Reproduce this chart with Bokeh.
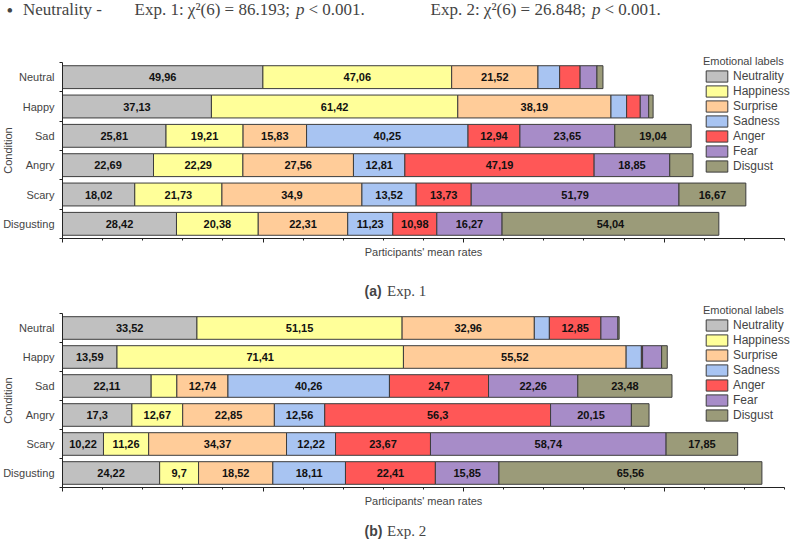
from bokeh.plotting import figure
from bokeh.models import (ColumnDataSource, FixedTicker, Legend, LegendItem, Label, Range1d,
                          CustomLabelingPolicy)
from bokeh.layouts import column
from bokeh.core.properties import value
from bokeh.embed import file_html
from bokeh.resources import INLINE

SANS = "Liberation Sans"
SERIF = "Liberation Serif"

conditions = ["Neutral", "Happy", "Sad", "Angry", "Scary", "Disgusting"]
emotions = ["Neutrality", "Happiness", "Surprise", "Sadness", "Anger", "Fear", "Disgust"]
colors = ["#C0C0C0", "#FFFF99", "#FFCC99", "#A8C4F2", "#FF5757", "#A78CC8", "#9B9B79"]

# Exp. 1 (values per condition, order as in `conditions`)
exp1_neutrality = [49.96, 37.13, 25.81, 22.69, 18.02, 28.42]
exp1_happiness = [47.06, 61.42, 19.21, 22.29, 21.73, 20.38]
exp1_surprise = [21.52, 38.19, 15.83, 27.56, 34.9, 22.31]
exp1_sadness = [5.4, 3.9, 40.25, 12.81, 13.52, 11.23]
exp1_anger = [5.1, 3.4, 12.94, 47.19, 13.73, 10.98]
exp1_fear = [4.2, 2.1, 23.65, 18.85, 51.79, 16.27]
exp1_disgust = [1.5, 1.1, 19.04, 5.8, 16.67, 54.04]

# Exp. 2
exp2_neutrality = [33.52, 13.59, 22.11, 17.3, 10.22, 24.22]
exp2_happiness = [51.15, 71.41, 6.4, 12.67, 11.26, 9.7]
exp2_surprise = [32.96, 55.52, 12.74, 22.85, 34.37, 18.52]
exp2_sadness = [3.75, 3.8, 40.26, 12.56, 12.22, 18.11]
exp2_anger = [12.85, 0.3, 24.7, 56.3, 23.67, 22.41]
exp2_fear = [4.25, 4.75, 22.26, 20.15, 58.74, 15.85]
exp2_disgust = [0.3, 1.4, 23.48, 4.4, 17.85, 65.56]

x_max = 180
x_major_ticks = [0, 50, 100, 150]
x_minor_ticks = list(range(0, 181, 10))
label_threshold = 9.0

x_title = "Participants' mean rates"
y_title = "Condition"
legend_title = "Emotional labels"

header_parts_1 = ["Exp. 1: \u03c7\u00b2(6) = 86.193;", "p", "< 0.001."]
header_parts_2 = ["Exp. 2: \u03c7\u00b2(6) = 26.848;", "p", "< 0.001."]

W = 792
LEFT = 62                 # px from figure left to x = 0
RIGHT_END = 784           # px from figure left to x = x_max
PX = (RIGHT_END - LEFT) / x_max   # px per unit on x


def make_panel(series, height, axis_px, top_px, letter, exp_text, cap_y, legend_y):
    """axis_px: px from figure top to the x axis; top_px: px from figure top to top of category band."""
    n = len(conditions)
    ys = [n - 0.5 - i for i in range(n)]
    data = {"y": ys}
    for e, s in zip(emotions, series):
        data[e] = s
    src = ColumnDataSource(data)

    py = (axis_px - top_px) / n
    y_lo = -(height - axis_px) / py
    y_hi = n + top_px / py
    p = figure(width=W, height=height,
               x_range=Range1d(-LEFT / PX, (W - LEFT) / PX), y_range=Range1d(y_lo, y_hi),
               output_backend="svg", toolbar_location=None, min_border=0)
    p.outline_line_color = None
    p.xgrid.visible = False
    p.ygrid.visible = False
    p.background_fill_color = "white"

    renderers = p.hbar_stack(emotions, y="y", height=0.78, fill_color=colors,
                             line_color="#3c3c3c", line_width=1, source=src)

    # value labels
    lx, ly, lt = [], [], []
    for i in range(n):
        cum = 0.0
        for s in series:
            v = s[i]
            if v >= label_threshold:
                lx.append(cum + v / 2)
                ly.append(ys[i])
                lt.append(str(v).replace(".", ","))
            cum += v
    p.text(x=lx, y=ly, text=lt, text_align="center", text_baseline="middle",
           text_font=value(SANS), text_font_style="bold", text_font_size="11px",
           text_color="#111111")

    # x axis
    xa = p.xaxis[0]
    xa.fixed_location = 0
    xa.bounds = (0, x_max)
    xa.ticker = FixedTicker(ticks=x_major_ticks, minor_ticks=x_minor_ticks)
    xa.major_label_policy = CustomLabelingPolicy(
        code="const all = [...indices]; for (const i of all) indices.unset(i); return indices;")
    xa.major_label_standoff = 0
    xa.major_tick_out = 4
    xa.major_tick_in = 0
    xa.minor_tick_out = 2
    xa.minor_tick_in = 0
    xa.axis_line_color = "#222222"
    xa.major_tick_line_color = "#222222"
    xa.minor_tick_line_color = "#222222"
    xa.axis_label = x_title
    xa.axis_label_text_font = SANS
    xa.axis_label_text_font_size = "11px"
    xa.axis_label_text_font_style = "normal"
    xa.axis_label_standoff = -8

    # y axis
    ya = p.yaxis[0]
    ya.fixed_location = 0
    ya.bounds = (0, n)
    ya.ticker = FixedTicker(ticks=ys, minor_ticks=list(range(n + 1)))
    ya.major_label_overrides = {y: c for y, c in zip(ys, conditions)}
    ya.major_label_text_font = SANS
    ya.major_label_text_font_size = "11px"
    ya.major_label_standoff = 5
    ya.major_tick_out = 0
    ya.major_tick_in = 0
    ya.minor_tick_out = 3
    ya.minor_tick_in = 0
    ya.axis_line_color = "#222222"
    ya.minor_tick_line_color = "#222222"

    band_mid = height - (axis_px + top_px) / 2
    p.add_layout(Label(x=7, y=band_mid, x_units="screen", y_units="screen",
                       text=y_title, angle=90, angle_units="deg",
                       text_align="center", text_baseline="middle",
                       text_font=SANS, text_font_size="11px"))

    legend = Legend(items=[LegendItem(label=e, renderers=[r]) for e, r in zip(emotions, renderers)],
                    location=(703, legend_y), title=legend_title,
                    title_text_font=SANS, title_text_font_size="11px",
                    title_text_font_style="normal", title_standoff=2,
                    label_text_font=SANS, label_text_font_size="12px",
                    glyph_width=27, glyph_height=14, label_height=14,
                    spacing=1, padding=0, margin=0, label_standoff=3,
                    border_line_alpha=0, background_fill_alpha=0)
    p.add_layout(legend)

    # caption
    p.add_layout(Label(x=364, y=cap_y, x_units="screen", y_units="screen",
                       text=letter, text_font=SANS, text_font_style="bold",
                       text_font_size="14px", text_baseline="middle"))
    p.add_layout(Label(x=386.5, y=cap_y, x_units="screen", y_units="screen",
                       text=exp_text, text_font=SERIF, text_font_size="15px",
                       text_baseline="middle"))
    return p


p1 = make_panel([exp1_neutrality, exp1_happiness, exp1_surprise, exp1_sadness,
                 exp1_anger, exp1_fear, exp1_disgust],
                300, 238, 62, "(a)", "Exp. 1", 10, 127)
p2 = make_panel([exp2_neutrality, exp2_happiness, exp2_surprise, exp2_sadness,
                 exp2_anger, exp2_fear, exp2_disgust],
                246, 187, 13, "(b)", "Exp. 2", 16, 124)

# header line (top of first panel)
FS = "17px"
hy = 301
for x, t, style, fs in [(6, "\u2022", "normal", "19px"), (22.5, "Neutrality -", "normal", FS),
                        (134, header_parts_1[0], "normal", FS),
                        (295.5, header_parts_1[1], "italic", FS),
                        (308, header_parts_1[2], "normal", FS),
                        (430, header_parts_2[0], "normal", FS),
                        (591.5, header_parts_2[1], "italic", FS),
                        (604, header_parts_2[2], "normal", FS)]:
    p1.add_layout(Label(x=x, y=hy, x_units="screen", y_units="screen", text=t,
                        text_font=SERIF, text_font_size=fs, text_font_style=style,
                        text_baseline="top"))

layout = column(p1, p2, spacing=0)
open("out.html", "w").write(file_html(layout, INLINE))
